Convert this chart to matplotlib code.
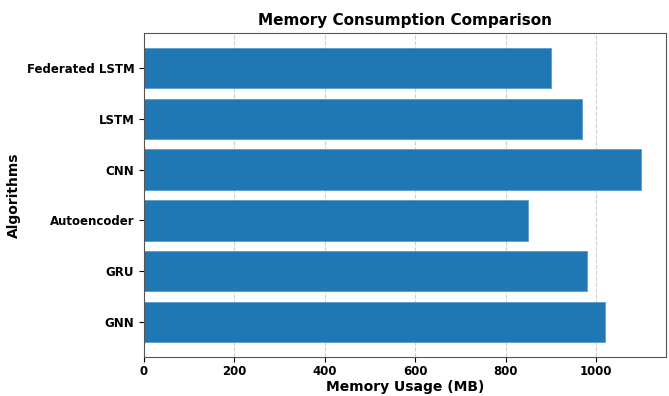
import matplotlib
matplotlib.use("Agg")
import matplotlib.pyplot as plt

algorithms = ["Federated LSTM", "LSTM", "CNN", "Autoencoder", "GRU", "GNN"]
memory_mb = [900, 970, 1100, 850, 980, 1020]

fig = plt.figure(figsize=(6.69, 3.96), dpi=100)
ax = fig.add_axes([144/669, 1 - 357/396, (666-144)/669, (357-33)/396])
ax.barh(algorithms, memory_mb, color="#1f77b4", edgecolor="#5a9bd0", linewidth=0.6)
ax.invert_yaxis()
ax.set_title("Memory Consumption Comparison", fontsize=11, fontweight="bold")
ax.set_xlabel("Memory Usage (MB)", fontsize=10, fontweight="bold", labelpad=1)
ax.set_ylabel("Algorithms", fontsize=10, fontweight="bold")
ax.grid(axis="x", linestyle="--", alpha=0.6)
ax.set_axisbelow(True)
ax.tick_params(axis="x", pad=2.5)
for lab in ax.get_xticklabels() + ax.get_yticklabels():
    lab.set_fontweight("bold")
    lab.set_fontsize(8.5)
for s in ax.spines.values():
    s.set_color("#555555")
fig.savefig("out.png", dpi=100)
